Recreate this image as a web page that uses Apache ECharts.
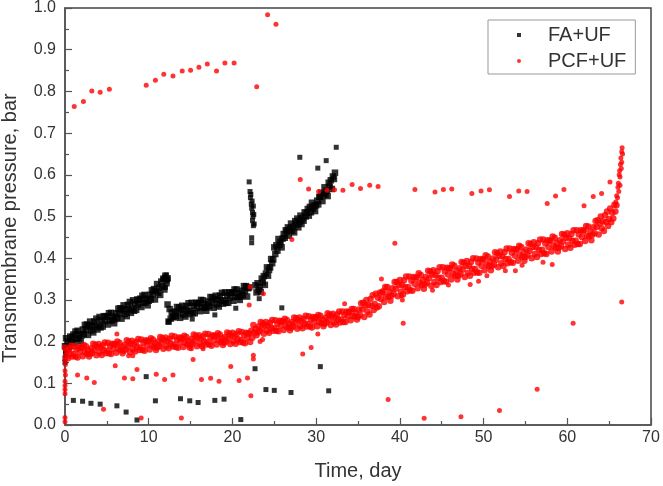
<!DOCTYPE html>
<html>
<head>
<meta charset="utf-8">
<script src="https://cdn.jsdelivr.net/npm/echarts@6/dist/echarts.min.js"></script>
<style>
html,body{margin:0;padding:0;background:#fff;}
#chart{width:663px;height:486px;}
</style>
</head>
<body>
<div id="chart"></div>
<script>
// ---- Data (TMP logged every 0.125 day, values in mbar) ----
const LOG_STEP_DAY = 0.125;

// FA+UF, first run: starts day 0
const faRun1Start = 0;
const faRun1Mbar = [
189,208,183,200,187,212,200,211,
217,197,224,207,226,208,217,201,
215,229,218,240,229,241,216,236,
248,227,239,222,248,236,255,229,
240,259,234,251,236,261,249,260,
261,241,268,251,269,251,260,244,
254,268,257,279,268,280,255,275,
287,266,278,261,288,276,295,269,
280,299,274,291,276,301,289,300,
303,283,310,293,312,294,303,287,
298,312,301,323,314,326,301,321,
338,317,329,312,344,332,351,325,
358,340,352
];

// FA+UF, second run: starts day 12.25
const faRun2Start = 12.25;
const faRun2Mbar = [
289,248,278,255,270,260,
258,272,261,283,270,282,257,277,
286,265,277,260,285,273,292,266,
274,293,268,285,268,293,281,292,
293,273,300,283,299,281,290,274,
282,296,285,307,294,306,281,301,
310,289,301,284,310,298,317,291,
299,318,293,310,293,318,306,317,
318,298,325,308,325,307,316,300,
308,322,311,333,321,333,308,328,
330
];

// FA+UF, third run: starts day 22.75
const faRun3Start = 22.75;
const faRun3Mbar = [
335,318,
340,323,332,319,351,342,357,336,
363,378,358,372,378,398,388,397,
426,410,431,418,446,432,439,426,
447,458,449,467,464,474,454,470,
483,466,475,462,489,480,495,474,
487,502,482,496,490,510,500,509,
518,502,523,510,533,519,526,513,
527,538,529,547,547,557,537,553,
570,553,562,549,581,572,587,566,
596,590,605
];

// FA+UF, scattered readings [day, bar]
const faScatter = [
[0,0.15],[0,0.16],[0.05,0.17],[0.05,0.18],[0.1,0.19],
[11.7,0.35],[11.9,0.355],[12.0,0.33],[12.1,0.36],[12.2,0.345],[12.3,0.35],
[12.35,0.247],[15.2,0.254],[17.9,0.264],[20.4,0.28],[23.2,0.303],[25.9,0.281],
[22.0,0.583],[22.1,0.56],[22.15,0.545],[22.2,0.553],[22.25,0.53],[22.3,0.52],
[22.35,0.537],[22.4,0.51],[22.45,0.5],[22.4,0.49],[22.5,0.525],[22.55,0.505],
[22.6,0.482],[22.5,0.478],[22.3,0.449],[22.3,0.437],
[28.05,0.642],[30.2,0.616],[31.2,0.634],[32.4,0.666],
[1.0,0.059],[2.1,0.057],[3.1,0.052],[4.2,0.05],[6.2,0.046],[7.3,0.031],
[8.6,0.012],[9.7,0.116],[10.8,0.058],[13.8,0.063],[14.9,0.058],[15.9,0.054],
[17.9,0.059],[19.0,0.062],[21.0,0.013],[22.7,0.135],[24.0,0.085],[25.0,0.083],
[27.0,0.078],[30.5,0.14],[31.5,0.082]
];

// PCF+UF continuous run: starts day 0
const pcfRunStart = 0;
const pcfRunMbar = [
186,165,177,160,183,171,190,164,
170,189,164,181,162,187,175,186,
185,165,192,175,189,171,180,164,
170,184,173,195,180,192,167,187,
194,173,185,168,191,179,198,172,
178,197,172,189,170,195,183,194,
193,173,200,183,197,179,188,172,
178,192,181,203,188,200,175,195,
202,181,193,176,199,187,206,180,
186,205,180,197,178,203,191,202,
201,181,208,191,205,187,196,180,
186,200,189,211,196,208,183,203,
210,189,201,184,207,195,214,188,
193,212,187,204,185,210,198,209,
207,187,214,197,211,193,202,186,
192,206,195,217,202,214,189,209,
215,194,206,189,212,200,219,193,
199,218,193,210,190,215,203,214,
213,193,220,203,217,199,208,192,
197,211,200,222,207,219,194,214,
221,200,212,195,218,206,225,199,
204,223,198,215,196,221,209,220,
219,199,226,209,240,222,231,215,
222,236,225,247,232,244,219,239,
247,226,238,221,245,233,252,226,
232,251,226,243,225,250,238,249,
248,228,255,238,252,234,243,227,
233,247,236,258,244,256,231,251,
258,237,249,232,255,243,262,236,
242,261,236,253,234,259,247,258,
257,237,264,247,262,244,253,237,
243,257,246,268,253,265,240,260,
267,246,258,241,265,253,272,246,
253,272,247,264,247,272,260,271,
271,251,278,261,278,260,269,253,
259,277,263,292,277,293,259,286,
300,272,288,265,302,286,311,276,
290,315,282,305,285,318,302,317,
321,295,331,308,331,307,319,298,
310,328,314,343,327,343,309,336,
348,320,336,313,347,331,356,321,
331,356,323,346,322,355,339,354,
354,328,364,341,360,336,348,327,
337,355,341,370,352,368,334,361,
371,343,359,336,369,353,378,343,
353,378,345,368,344,377,361,376,
375,349,385,362,382,358,370,349,
358,376,362,391,373,389,355,382,
393,365,381,358,391,375,400,365,
374,399,366,389,365,398,382,397,
397,371,407,384,404,380,392,371,
381,399,385,414,396,412,378,405,
416,388,404,381,414,398,423,388,
398,423,390,413,389,422,406,421,
420,394,430,407,427,403,415,394,
403,421,407,436,418,434,400,427,
438,410,426,403,436,420,445,410,
420,445,412,435,410,443,427,442,
442,416,452,429,449,425,437,416,
425,443,429,458,440,456,422,449,
460,432,448,425,458,442,467,432,
442,467,434,457,434,467,451,466,
467,441,477,454,476,452,464,443,
456,474,460,489,475,491,457,484,
500,472,488,465,503,487,512,477,
494,519,486,509,495,528,512,527
];

// PCF+UF, final rise and scattered readings [day, bar]
const pcfScatter = [
[65.8,0.535],[65.9,0.55],[66.0,0.545],[66.05,0.57],[66.1,0.58],[66.15,0.56],
[66.2,0.6],[66.25,0.61],[66.3,0.595],[66.35,0.625],[66.4,0.64],[66.45,0.615],
[66.5,0.655],[66.55,0.665],[66.5,0.63],[66.6,0.65],[66.3,0.575],
[1.1,0.764],[2.2,0.776],[3.2,0.801],[4.2,0.798],[5.3,0.805],[9.7,0.815],
[10.8,0.827],[11.8,0.841],[12.9,0.837],[14.0,0.849],[15.0,0.851],[16.0,0.858],
[17.0,0.866],[18.1,0.849],[19.1,0.868],[20.2,0.868],[22.9,0.811],[24.2,0.984],[25.2,0.961],
[28.1,0.589],[29.1,0.566],[30.3,0.56],[31.3,0.563],[32.2,0.564],[33.2,0.563],
[34.3,0.577],[35.3,0.567],[36.4,0.575],[37.4,0.572],[41.8,0.565],[44.2,0.559],
[45.2,0.565],[46.2,0.566],[48.6,0.555],[49.7,0.561],[50.7,0.564],[53.1,0.548],
[54.2,0.561],[55.2,0.56],[57.6,0.531],[58.6,0.549],[59.6,0.565],[62.0,0.526],
[63.1,0.548],[64.1,0.555],[65.1,0.583],
[27.1,0.445],[39.4,0.436],[40.4,0.244],[60.7,0.244],[66.5,0.295],
[38.6,0.061],[42.9,0.016],[47.3,0.02],[51.9,0.035],[56.4,0.086],
[0,0.008],[0,0.018],[0,0.075],[0,0.085],[0,0.095],[0,0.105],[0.05,0.12],
[0,0.13],[0.05,0.145],[0,0.155],
[1.5,0.12],[2.6,0.113],[3.5,0.102],[4.6,0.038],[6.0,0.142],[7.1,0.113],
[8.1,0.111],[8.6,0.133],[9.1,0.017],[7.6,0.166],[8.1,0.166],[10.9,0.122],
[11.9,0.109],[12.9,0.12],[13.9,0.017],[15.3,0.157],[16.3,0.109],[17.4,0.112],
[18.4,0.105],[19.8,0.14],[20.8,0.107],[21.8,0.113],[22.2,0.07],[22.5,0.158],[22.5,0.167],
[6.2,0.218],[22.0,0.288],[22.1,0.331],[23.7,0.315],[23.3,0.2],[23.6,0.205],
[15.1,0.183],[16.5,0.183],[28.4,0.17],[29.4,0.186],[30.2,0.218],[33.4,0.291],
[48.4,0.337],[49.4,0.345],[50.4,0.358],[52.6,0.37],[53.8,0.37],[54.6,0.383],
[57.1,0.39],[58.2,0.385],[43.9,0.323],[45.8,0.336],[40.2,0.31],[40.3,0.3],[37.8,0.35]
];

const xTicks = {min: 0, max: 70, interval: 10};
const yTicks = {min: 0, max: 1.0, interval: 0.1};

// ---- Build ----
function run(start, mbar) {
  return mbar.map((v, i) => [start + i * LOG_STEP_DAY, v / 1000]);
}
const faRuns = [].concat(run(faRun1Start, faRun1Mbar), run(faRun2Start, faRun2Mbar),
                         run(faRun3Start, faRun3Mbar));
const pcfRuns = run(pcfRunStart, pcfRunMbar);

const FONT = 'Liberation Sans, Arial, sans-serif';
const TXT = '#333';
const AX = '#555';

const chart = echarts.init(document.getElementById('chart'), null, {renderer: 'canvas'});
chart.setOption({
  animation: false,
  backgroundColor: '#fff',
  textStyle: {fontFamily: FONT},
  grid: {left: 65, top: 7, width: 586, height: 423, show: true,
         borderColor: '#444', borderWidth: 1.5, backgroundColor: 'transparent'},
  legend: {
    orient: 'vertical', left: 488, top: 20,
    padding: [5, 9, 3, 29], itemGap: 6, itemWidth: 4, itemHeight: 4,
    borderColor: '#999', borderWidth: 1, borderRadius: 0, backgroundColor: '#fff',
    textStyle: {fontSize: 20, color: TXT, fontFamily: FONT, lineHeight: 20, padding: [0, 0, 0, 22]},
    data: [{name: 'FA+UF', icon: 'rect'}, {name: 'PCF+UF', icon: 'circle'}]
  },
  xAxis: {
    type: 'value', min: xTicks.min, max: xTicks.max, interval: xTicks.interval,
    name: 'Time, day', nameLocation: 'middle', nameGap: 36,
    nameTextStyle: {fontSize: 20, color: TXT, fontFamily: FONT},
    axisLine: {show: true, lineStyle: {color: AX, width: 1.5}},
    axisTick: {show: true, inside: true, length: 7, lineStyle: {color: AX, width: 1.2}},
    minorTick: {show: true, splitNumber: 2, length: 4, lineStyle: {color: AX, width: 1.2}},
    axisLabel: {fontSize: 16, color: TXT, margin: 5, fontFamily: FONT},
    splitLine: {show: false}
  },
  yAxis: {
    type: 'value', min: yTicks.min, max: yTicks.max, interval: yTicks.interval,
    axisLine: {show: true, lineStyle: {color: AX, width: 1.5}},
    axisTick: {show: true, inside: true, length: 7, lineStyle: {color: AX, width: 1.2}},
    minorTick: {show: true, splitNumber: 2, length: 4, lineStyle: {color: AX, width: 1.2}},
    axisLabel: {fontSize: 16, color: TXT, margin: 9, fontFamily: FONT,
                formatter: v => v.toFixed(1)},
    splitLine: {show: false}
  },
  graphic: [{
    type: 'text', x: 10, y: 228, rotation: Math.PI / 2,
    style: {text: 'Transmembrane pressure, bar', fontSize: 20, fill: TXT,
            fontFamily: FONT, textAlign: 'center', textVerticalAlign: 'middle'}
  }],
  series: [
    {name: 'FA+UF', type: 'scatter', symbol: 'rect', symbolSize: 6.5,
     itemStyle: {color: '#000'}, data: faRuns},
    {name: 'FA+UF', type: 'scatter', symbol: 'rect', symbolSize: 5,
     itemStyle: {color: '#000'}, data: faScatter},
    {name: 'PCF+UF', type: 'scatter', symbol: 'circle', symbolSize: 6.5,
     itemStyle: {color: '#ff0000'}, data: pcfRuns},
    {name: 'PCF+UF', type: 'scatter', symbol: 'circle', symbolSize: 5,
     itemStyle: {color: '#ff0000'}, data: pcfScatter}
  ]
});
</script>
</body>
</html>
